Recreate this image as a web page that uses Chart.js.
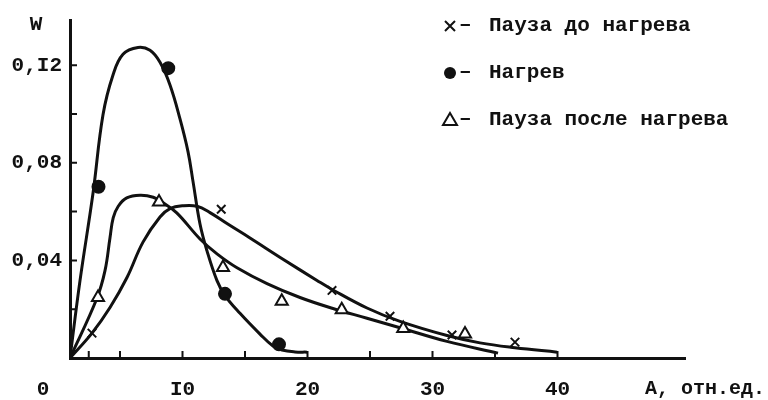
<!DOCTYPE html>
<html>
<head>
<meta charset="utf-8">
<script src="https://cdnjs.cloudflare.com/ajax/libs/Chart.js/4.4.1/chart.umd.js"></script>
<style>
html,body{margin:0;padding:0;background:#fff;}
#wrap{width:768px;height:400px;}
</style>
</head>
<body>
<div id="wrap"><canvas id="c"></canvas></div>
<script>
// Пауза до нагрева: сглаженная кривая и точки
const beforeA=[1,2.76,4.2,5.56,6.84,8.2,9.0,10.04,11.16,12.2,13.56,15.4,18.04,20.76,22.0,24.76,27.4,31.16,33.8,36.6,39.96];
const beforeW=[0,0.0102,0.0207,0.033,0.0475,0.0578,0.0612,0.0624,0.0622,0.0596,0.0551,0.0492,0.0405,0.0318,0.028,0.0205,0.015,0.0092,0.0062,0.0042,0.0024];
const beforePtA=[2.76,13.1,21.96,26.6,31.56,36.6];
const beforePtW=[0.0102,0.061,0.0277,0.0171,0.0094,0.0065];

// Нагрев
const heatA=[1,1.8,2.84,3.64,4.44,5.24,6.44,7.4,8.2,9.0,9.8,10.44,10.84,11.4,11.96,12.76,13.4,14.6,16.2,17.24,17.96,19.0,19.96];
const heatW=[0,0.0317,0.0675,0.0997,0.116,0.1245,0.1273,0.1261,0.1212,0.1119,0.098,0.0846,0.0724,0.0549,0.0439,0.0317,0.0256,0.0183,0.0098,0.0049,0.0033,0.0025,0.0024];
const heatPtA=[3.28,8.86,13.4,17.72];
const heatPtW=[0.0702,0.1188,0.0263,0.0056];

// Пауза после нагрева
const afterA=[1,3.14,3.8,4.2,4.46,4.86,5.54,6.6,7.66,8.46,9.54,11.4,12.76,14.36,16.76,19.4,22.04,24.76,27.4,31.16,35.24];
const afterW=[0,0.0243,0.0358,0.0493,0.0575,0.0622,0.0656,0.0667,0.0659,0.0636,0.0595,0.0488,0.0427,0.037,0.0305,0.0248,0.0203,0.0163,0.0124,0.0068,0.002];
const afterPtA=[3.24,8.12,13.24,17.94,22.74,27.66,32.6];
const afterPtW=[0.0248,0.0639,0.0371,0.0233,0.0198,0.0121,0.0098];

const seriesNames=['Пауза до нагрева','Нагрев','Пауза после нагрева'];

const xTickVals=[10,20,30,40];
const xTickText=['I0','20','30','40'];
const yTickVals=[0.04,0.08,0.12];
const yTickText=['0,04','0,08','0,I2'];
const xMarkVals=[2.5,5,10,15,20,25,30,35,40];
const yMarkVals=[0.02,0.04,0.06,0.08,0.10,0.12];

const INK='#111';
const FONT='"Liberation Mono", "DejaVu Sans Mono", monospace';

const pts=(xs,ys)=>xs.map((x,i)=>({x:x,y:ys[i]}));

function curve(xs,ys){
  return {type:'line',data:pts(xs,ys),borderColor:INK,borderWidth:3,pointRadius:0,
    tension:0.4,fill:false,order:2};
}
function marks(xs,ys,style,bg,r){
  return {type:'scatter',data:pts(xs,ys),showLine:false,pointStyle:style,pointRadius:r,
    pointBorderColor:INK,pointBackgroundColor:bg,pointBorderWidth:2,order:1};
}

// засечки внутрь поля, подписи осей и легенда
const decor={
  id:'decor',
  afterDraw(chart){
    const ctx=chart.ctx, xs=chart.scales.x, ys=chart.scales.y;
    const x0=chart.chartArea.left, y0=chart.chartArea.bottom;
    ctx.save();
    ctx.strokeStyle=INK;ctx.lineWidth=2;
    ctx.beginPath();
    yMarkVals.forEach(v=>{const p=ys.getPixelForValue(v);ctx.moveTo(x0,p);ctx.lineTo(x0+7,p);});
    xMarkVals.forEach(v=>{const p=xs.getPixelForValue(v);ctx.moveTo(p,y0);ctx.lineTo(p,y0-7);});
    ctx.stroke();

    ctx.fillStyle=INK;
    ctx.font='bold 21px '+FONT;
    ctx.textAlign='center';ctx.textBaseline='middle';
    ctx.fillText('W',36,25);
    ctx.fillText('0',43,390);
    ctx.textAlign='left';
    ctx.font='bold 20px '+FONT;
    ctx.fillText('A, отн.ед.',645,389);

    // легенда
    const lx=450, rows=[26,73,120];
    ctx.lineWidth=2;
    ctx.beginPath();
    ctx.moveTo(lx-5,rows[0]-5);ctx.lineTo(lx+5,rows[0]+5);
    ctx.moveTo(lx+5,rows[0]-5);ctx.lineTo(lx-5,rows[0]+5);
    ctx.stroke();
    ctx.beginPath();ctx.arc(lx,rows[1],6,0,Math.PI*2);ctx.fill();
    ctx.beginPath();
    ctx.moveTo(lx,rows[2]-7);ctx.lineTo(lx+7,rows[2]+5);ctx.lineTo(lx-7,rows[2]+5);ctx.closePath();
    ctx.stroke();
    ctx.font='bold 21px '+FONT;
    ctx.textBaseline='middle';
    seriesNames.forEach((s,i)=>{
      ctx.fillText('–',459,rows[i]-1);
      ctx.fillText(s,489,rows[i]);
    });
    ctx.restore();
  }
};

new Chart(document.getElementById('c'),{
  data:{datasets:[
    marks(beforePtA,beforePtW,'crossRot','#fff',6),
    marks(heatPtA,heatPtW,'circle',INK,6),
    marks(afterPtA,afterPtW,'triangle','#fff',7),
    curve(beforeA,beforeW),
    curve(heatA,heatW),
    curve(afterA,afterW)
  ]},
  options:{
    responsive:true,maintainAspectRatio:false,animation:false,
    layout:{padding:{top:18,right:83,left:0,bottom:0}},
    plugins:{legend:{display:false},tooltip:{enabled:false}},
    scales:{
      x:{type:'linear',position:'bottom',min:1,max:50.2,
        grid:{display:false,drawTicks:false,tickLength:0},
        border:{display:true,color:INK,width:3},
        afterBuildTicks:s=>{s.ticks=xTickVals.map(v=>({value:v}));},
        afterFit:s=>{s.height=42;},
        ticks:{color:INK,padding:19,maxRotation:0,font:{family:FONT,size:21,weight:'bold'},
          callback:v=>xTickText[xTickVals.indexOf(v)]}
      },
      y:{type:'linear',position:'left',min:0,max:0.1383,
        grid:{display:false,drawTicks:false,tickLength:0},
        border:{display:true,color:INK,width:3},
        afterBuildTicks:s=>{s.ticks=yTickVals.map(v=>({value:v}));},
        afterFit:s=>{s.width=70;},
        ticks:{color:INK,padding:8,font:{family:FONT,size:21,weight:'bold'},
          callback:v=>yTickText[yTickVals.indexOf(v)]}
      }
    }
  },
  plugins:[decor]
});
</script>
</body>
</html>
